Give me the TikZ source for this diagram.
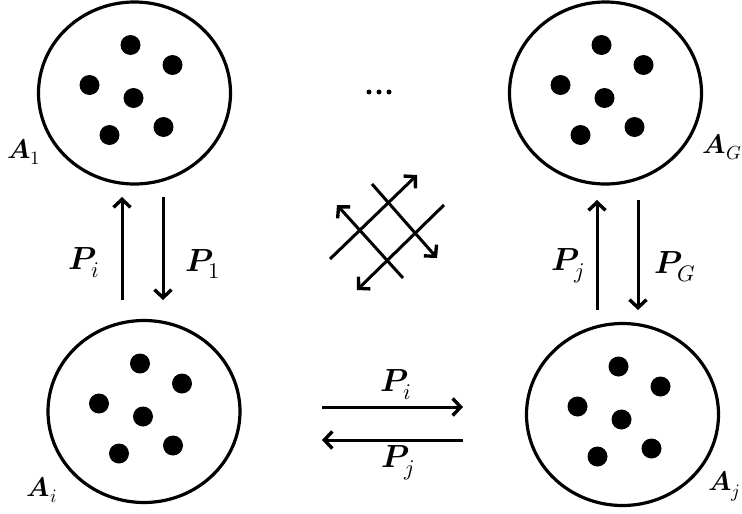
\documentclass[tikz,border=0pt]{standalone}
\usepackage{unicode-math}
\setmathfont{Latin Modern Math}
\usetikzlibrary{arrows.meta,shapes.geometric}
\begin{document}
\begin{tikzpicture}[x=1pt,y=-1pt,
  group/.style={draw,ellipse,line width=3.2pt,minimum width=192pt,minimum height=182pt,inner sep=0pt},
  member/.style={fill,circle,minimum size=20pt,inner sep=0pt},
  tiny/.style={fill,circle,minimum size=5pt,inner sep=0pt},
  flow/.style={line width=3pt,-{Straight Barb[length=8pt,width=17pt,line width=3.4pt]}},
  lab/.style={font=\fontsize{32}{34}\selectfont,inner sep=0pt},
  glab/.style={font=\fontsize{27}{29}\selectfont,inner sep=0pt}]
\useasboundingbox (0,0) rectangle (742,514);
% groups
\node[group] (tl) at (134.5,93) {};
\node[group] (tr) at (605.5,93) {};
\node[group] (bl) at (144,411.5) {};
\node[group] (br) at (622.5,414.5) {};
\foreach \g in {tl,tr,bl,br}{
  \foreach \dx/\dy [count=\k] in {-4/-48,38/-28,-45/-8,-1/5,29/34,-25/42}
    \node[member] (\g-\k) at ([shift={(\dx,\dy)}]\g.center) {};
}
% group labels
\node[glab] (la1) at (24,152) {$\symbfit{A}_1$};
\node[glab] (lag) at (722,147) {$\symbfit{A}_G$};
\node[glab] (lai) at (42,490) {$\symbfit{A}_i$};
\node[glab] (laj) at (724,486) {$\symbfit{A}_j$};
% ellipsis
\node[tiny] (e1) at (369,92) {};
\node[tiny] (e2) at (379,92) {};
\node[tiny] (e3) at (389,92) {};
% left vertical arrows
\coordinate (lu0) at (122,300); \coordinate (lu1) at (122,197);
\coordinate (ld0) at (163,197); \coordinate (ld1) at (163,300);
\draw[flow] (lu0) -- (lu1);
\draw[flow] (ld0) -- (ld1);
\node[lab] (pli) at (84,263) {$\symbfit{P}_i$};
\node[lab] (pl1) at (203,264) {$\symbfit{P}_1$};
% right vertical arrows
\coordinate (ru0) at (597,310); \coordinate (ru1) at (597,200);
\coordinate (rd0) at (638,200); \coordinate (rd1) at (638,310);
\draw[flow] (ru0) -- (ru1);
\draw[flow] (rd0) -- (rd1);
\node[lab] (prj) at (568,266) {$\symbfit{P}_j$};
\node[lab] (prg) at (675,267) {$\symbfit{P}_G$};
% horizontal arrows
\coordinate (h10) at (322,407); \coordinate (h11) at (463,407);
\coordinate (h20) at (463,440); \coordinate (h21) at (322,440);
\draw[flow] (h10) -- (h11);
\draw[flow] (h20) -- (h21);
\node[lab] (phi) at (396,385) {$\symbfit{P}_i$};
\node[lab] (phj) at (398,463) {$\symbfit{P}_j$};
% crossing arrows
\coordinate (c10) at (330,259); \coordinate (c11) at (417,175);
\coordinate (c20) at (372,184); \coordinate (c21) at (437,258);
\coordinate (c30) at (444,205); \coordinate (c31) at (357,290);
\coordinate (c40) at (403,278); \coordinate (c41) at (337,205);
\draw[flow] (c10) -- (c11);
\draw[flow] (c20) -- (c21);
\draw[flow] (c30) -- (c31);
\draw[flow] (c40) -- (c41);
\end{tikzpicture}
\end{document}
